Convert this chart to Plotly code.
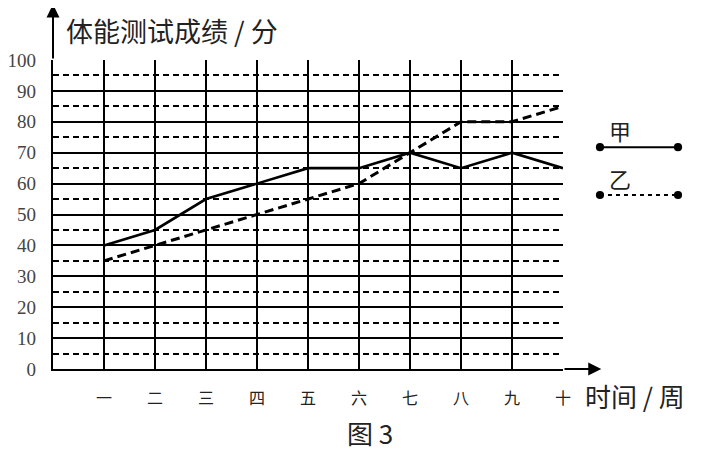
import plotly.graph_objects as go

weeks = [1, 2, 3, 4, 5, 6, 7, 8, 9, 10]
week_labels = ['一', '二', '三', '四', '五', '六', '七', '八', '九', '十']
jia = [40, 45, 55, 60, 65, 65, 70, 65, 70, 65]
yi = [35, 40, 45, 50, 55, 60, 70, 80, 80, 85]
y_ticks = [0, 10, 20, 30, 40, 50, 60, 70, 80, 90, 100]

cjk = 'Noto Sans CJK SC'
serif = 'Liberation Serif'

fig = go.Figure()
fig.add_trace(go.Scatter(x=weeks, y=jia, mode='lines', name='甲',
                         line=dict(color='black', width=2.6)))
fig.add_trace(go.Scatter(x=weeks, y=yi, mode='lines', name='乙',
                         line=dict(color='black', width=3, dash='9px,5px')))

# page body has an 8px margin, so the figure is 8px smaller than the window
fig.update_layout(
    width=694, height=444,
    margin=dict(l=45, r=139, t=52, b=83),
    paper_bgcolor='white', plot_bgcolor='white',
    showlegend=False,
)
fig.update_xaxes(
    range=[0, 10], tickvals=weeks, ticktext=week_labels,
    showgrid=True, gridcolor='black', gridwidth=1.6,
    showline=True, linecolor='black', linewidth=2.2,
    ticks='', ticklabelstandoff=14, automargin=False,
    tickfont=dict(family=cjk, size=16, color='#222'),
    zeroline=False,
)
fig.update_yaxes(
    range=[0, 100], tickvals=y_ticks,
    showgrid=True, gridcolor='black', gridwidth=1.6,
    minor=dict(dtick=5, showgrid=True, gridcolor='black', gridwidth=1.6,
               griddash='6px,4px'),
    showline=True, linecolor='black', linewidth=2.2,
    ticks='', ticklabelstandoff=11, automargin=False,
    tickfont=dict(family=serif, size=19, color='#444'),
    zeroline=False,
)

# axis arrows
fig.add_annotation(x=10.75, y=0, ax=10, ay=0, xref='x', yref='y', axref='x', ayref='y',
                   showarrow=True, arrowhead=2, arrowsize=1.3, arrowwidth=2, arrowcolor='black', text='')
fig.add_annotation(x=0, y=118, ax=0, ay=100, xref='x', yref='y', axref='x', ayref='y',
                   showarrow=True, arrowhead=2, arrowsize=1.3, arrowwidth=2, arrowcolor='black', text='')

# axis titles and caption
fig.add_annotation(x=0.022, y=1.097, xref='paper', yref='paper', xanchor='left', yanchor='middle',
                   text='体能测试成绩 / 分', showarrow=False,
                   font=dict(family=cjk, size=27, color='#222'))
fig.add_annotation(x=1.04, y=-0.085, xref='paper', yref='paper', xanchor='left', yanchor='middle',
                   text='时间 / 周', showarrow=False,
                   font=dict(family=cjk, size=26, color='#222'))
fig.add_annotation(x=0.621, y=-0.205, xref='paper', yref='paper', xanchor='center', yanchor='middle',
                   text='图 3', showarrow=False,
                   font=dict(family=cjk, size=26, color='#222'))

# legend drawn by hand (name above sample line)
legend_rows = [('甲', 0.832, 0.718, 'solid'), ('乙', 0.618, 0.563, '4px,4px')]
for name, ty, ly, dash in legend_rows:
    fig.add_annotation(x=1.137, y=ty, xref='paper', yref='paper', text=name, showarrow=False,
                       font=dict(family=cjk, size=22, color='#222'))
    fig.add_shape(type='line', xref='paper', yref='paper', x0=1.0725, x1=1.2255, y0=ly, y1=ly,
                  line=dict(color='black', width=2, dash=dash))
    for lx in (1.0725, 1.2255):
        fig.add_shape(type='circle', xref='paper', yref='paper',
                      x0=lx - 0.008, x1=lx + 0.008, y0=ly - 0.013, y1=ly + 0.013,
                      fillcolor='black', line=dict(color='black', width=0))

fig.write_html('out.html')
